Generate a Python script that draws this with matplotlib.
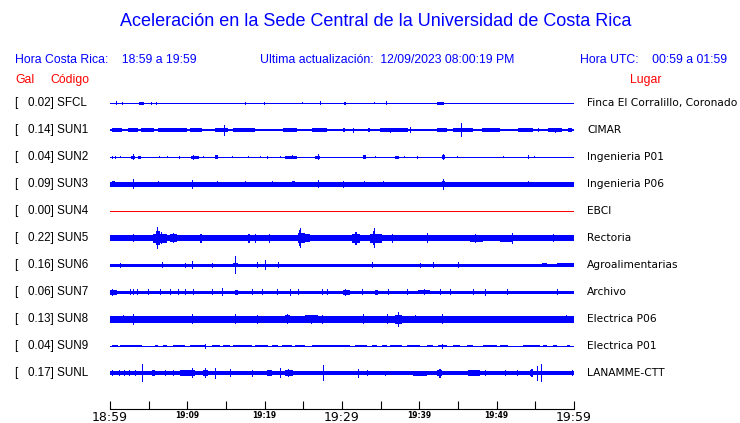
import numpy as np
import matplotlib.pyplot as plt

# ============================
# DATOS
# ============================

titulo = 'Aceleración en la Sede Central de la Universidad de Costa Rica'
hora_local = 'Hora Costa Rica:    18:59 a 19:59'
actualizacion = 'Ultima actualización:  12/09/2023 08:00:19 PM'
hora_utc = 'Hora UTC:    00:59 a 01:59'

codigos = ['SFCL', 'SUN1', 'SUN2', 'SUN3', 'SUN4', 'SUN5',
           'SUN6', 'SUN7', 'SUN8', 'SUN9', 'SUNL']
gal = [0.02, 0.14, 0.04, 0.09, 0.00, 0.22, 0.16, 0.06, 0.13, 0.04, 0.17]
lugares = ['Finca El Corralillo, Coronado', 'CIMAR', 'Ingenieria P01',
           'Ingenieria P06', 'EBCI', 'Rectoria', 'Agroalimentarias',
           'Archivo', 'Electrica P06', 'Electrica P01', 'LANAMME-CTT']

# minutos desde 18:59
tick_min = [0, 5, 10, 15, 20, 25, 30, 35, 40, 45, 50, 55, 60]
tick_txt = ['18:59', '', '19:09', '', '19:19', '', '19:29', '', '19:39', '',
            '19:49', '', '19:59']

# amplitud de fondo (px) de cada traza
fondo = [0.5, 1.0, 0.5, 1.7, 0.5, 2.8, 1.4, 1.4, 2.7, 0.5, 2.0]

# rafagas: (minuto inicio, minuto fin, amplitud px)
sfcl = [(0.78, 0.78, 2), (1.55, 1.55, 1.5), (3.75, 4.4, 1.5), (5.3, 5.3, 1.5),
        (5.95, 5.95, 1.5), (17.45, 17.45, 1.5), (19.9, 19.9, 1.5),
        (24.8, 24.8, 1), (27.15, 27.15, 2), (30.25, 30.5, 1.5),
        (34.1, 34.1, 1), (35.7, 35.7, 2), (42.3, 43.2, 1.5)]
sun1 = [(0.26, 1.55, 1.6), (2.33, 3.62, 1.6), (4.0, 5.7, 1.8), (6.2, 9.95, 1.6),
        (10.35, 11.9, 1.6), (13.6, 15.25, 1.6), (14.75, 14.75, 5.5),
        (15.9, 18.75, 1.6), (22.4, 24.2, 1.6), (26.1, 28.05, 1.6),
        (30.1, 30.4, 1.6), (31.4, 31.4, 2.5), (33.35, 33.6, 1.6),
        (34.9, 38.55, 1.8), (36.2, 36.2, 2.5), (38.8, 38.8, 3),
        (42.3, 43.6, 1.6), (44.35, 46.95, 1.6), (45.4, 45.4, 7),
        (48.1, 50.4, 1.6), (52.75, 54.7, 1.6), (55.35, 55.35, 2),
        (56.6, 58.45, 1.6), (57.5, 57.5, 2.5), (59.2, 59.75, 1.6)]
sun2 = [(0.26, 0.26, 1.5), (0.65, 0.65, 1.5), (1.3, 1.3, 1), (2.7, 3.2, 1.5),
        (2.95, 2.95, 3), (3.6, 4.0, 1.5), (6.3, 6.3, 1), (7.4, 7.4, 1),
        (8.9, 8.9, 1.5), (10.5, 11.5, 1.5), (10.7, 10.7, 2.5),
        (12.0, 12.0, 1), (13.6, 14.0, 1.7), (15.8, 15.8, 1), (17.8, 17.8, 1),
        (19.4, 19.4, 1), (20.3, 20.3, 1.5), (22.0, 22.0, 1),
        (22.6, 24.2, 1.5), (23.5, 23.5, 2), (26.5, 27.2, 1.5),
        (26.9, 26.9, 3), (32.7, 33.1, 1.7), (34.3, 34.3, 1),
        (36.85, 37.4, 1.5), (38.0, 38.0, 1), (39.7, 39.7, 1.5),
        (42.9, 43.3, 1.7), (43.1, 43.1, 3), (44.9, 44.9, 1), (50.8, 50.8, 1),
        (54.0, 54.0, 2), (54.8, 54.8, 1)]
sun3 = [(0.26, 0.65, 3), (2.97, 2.97, 5), (6.2, 6.2, 3), (10.5, 11.5, 2.5),
        (10.6, 10.6, 4.5), (13.85, 13.85, 3), (17.45, 17.45, 3),
        (20.95, 20.95, 3), (22.4, 22.4, 2.5), (23.5, 23.9, 3),
        (26.9, 26.9, 4), (30.1, 30.1, 3.5), (32.7, 33.1, 2.5), (32.8, 32.8, 3),
        (35.3, 35.3, 3), (37.75, 37.75, 2.5), (42.9, 43.3, 3),
        (43.05, 43.05, 5.5), (54.05, 54.05, 3), (56.0, 56.0, 2.5)]
sun4 = []
sun5 = [(2.97, 2.97, 4), (4.5, 5.2, 3.3), (5.55, 7.4, 4.5), (5.9, 6.5, 7),
        (6.1, 6.1, 11), (6.6, 6.6, 6), (7.75, 8.65, 4), (8.1, 8.1, 5),
        (9.05, 12.3, 3.3), (11.7, 11.7, 4.5), (17.1, 19.65, 3.3),
        (17.9, 17.9, 4.5), (18.8, 18.8, 4.5), (20.05, 21.35, 3.3),
        (20.6, 20.6, 4.5), (22.6, 23.9, 3.3), (24.3, 25.2, 5),
        (24.45, 24.75, 8), (24.6, 24.6, 10), (25.2, 25.85, 3.8),
        (31.3, 32.3, 4.5), (31.7, 31.9, 6.5), (33.6, 35.2, 4.5),
        (33.95, 34.3, 7), (34.1, 34.1, 10), (35.3, 38.4, 3.3),
        (36.5, 36.5, 4.5), (38.8, 40.5, 3.3), (41.0, 41.0, 5),
        (46.55, 48.2, 3.5), (47.2, 47.2, 4.5), (50.4, 52.1, 3.5),
        (52.0, 52.0, 5.5), (57.3, 57.3, 4), (58.0, 59.6, 3.2)]
sun6 = [(1.3, 1.3, 2.5), (6.7, 6.7, 3), (9.7, 9.7, 2.5), (10.6, 10.6, 4),
        (13.2, 13.2, 2.5), (15.9, 16.6, 2.2), (16.2, 16.2, 9),
        (19.0, 19.0, 3), (20.0, 20.0, 5), (21.7, 21.7, 3), (33.9, 33.9, 3),
        (40.1, 40.1, 2.5), (41.8, 41.8, 3), (45.0, 45.0, 3),
        (55.9, 56.5, 2.2), (57.8, 60.0, 2)]
sun7 = [(0.0, 0.9, 2.5), (0.3, 0.3, 3.5), (2.6, 2.6, 3), (3.0, 3.0, 3),
        (3.5, 3.5, 3), (4.9, 4.9, 3), (6.5, 6.5, 3), (7.75, 7.75, 3),
        (8.8, 8.8, 3), (9.7, 9.7, 3), (10.7, 10.7, 3), (13.2, 13.2, 3),
        (14.5, 14.5, 4), (16.2, 16.55, 2.5), (18.4, 18.4, 3),
        (19.65, 19.65, 3), (21.6, 21.6, 3), (23.3, 23.3, 3.5),
        (24.3, 24.3, 3), (27.4, 27.4, 3), (28.05, 28.05, 3),
        (30.1, 31.0, 2.5), (30.4, 30.4, 3.5), (32.6, 32.6, 3),
        (34.3, 34.65, 2.5), (35.9, 35.9, 3), (38.4, 38.4, 3),
        (39.8, 41.4, 2.3), (40.6, 40.6, 3), (42.7, 42.7, 3), (44.0, 44.0, 3),
        (46.9, 46.9, 3), (48.5, 48.5, 3.5), (51.3, 51.3, 3), (57.8, 57.8, 3)]
sun8 = [(0.0, 0.7, 3.4), (1.7, 1.7, 4), (3.0, 3.0, 5.5), (3.6, 4.9, 3.4),
        (8.0, 9.0, 3.4), (10.6, 10.6, 5), (11.5, 12.5, 3.4), (13.6, 14.2, 3.4),
        (16.2, 16.2, 5), (17.85, 20.0, 3.4), (19.0, 19.0, 4.5),
        (22.6, 23.3, 3.6), (22.9, 22.9, 5), (25.2, 26.9, 3.6),
        (26.0, 26.0, 4.5), (27.4, 27.4, 4.5), (31.0, 31.4, 3.4),
        (32.7, 32.7, 5), (33.6, 34.1, 3.4), (35.8, 35.8, 5),
        (36.85, 37.75, 4.5), (37.25, 37.25, 7.5), (39.4, 39.4, 4),
        (42.9, 42.9, 5), (43.6, 46.2, 3.4), (47.5, 50.0, 3.2),
        (53.0, 54.3, 3.4), (59.0, 59.0, 4)]
sun9 = [(0.26, 1.03, 1.4), (1.29, 4.14, 1.4), (5.82, 6.21, 1.4),
        (6.85, 7.37, 1.4), (8.15, 9.70, 1.4), (10.34, 12.28, 1.4),
        (12.3, 12.3, 2.5), (13.19, 14.22, 1.4), (14.61, 15.52, 1.4),
        (15.90, 18.36, 1.4), (18.75, 20.43, 1.4), (20.95, 21.72, 1.4),
        (22.24, 23.53, 1.4), (23.92, 25.22, 1.4), (26.12, 31.03, 1.4),
        (31.68, 33.23, 1.4), (33.88, 34.52, 1.4), (35.17, 35.82, 1.4),
        (36.2, 37.76, 1.4), (38.4, 40.08, 1.4), (40.99, 41.76, 1.4),
        (42.41, 43.57, 1.4), (42.9, 42.9, 2.5), (44.35, 45.26, 1.4),
        (46.16, 46.94, 1.4), (48.23, 50.04, 1.4), (50.43, 51.46, 1.4),
        (53.4, 55.6, 1.4), (55.99, 56.5, 1.4), (57.28, 57.8, 1.4),
        (59.09, 59.48, 1.4)]
sunl = [(0.3, 0.3, 3), (1.2, 1.2, 3), (1.8, 1.8, 3), (2.4, 2.4, 3),
        (3.2, 3.2, 3), (4.14, 4.14, 9.3), (5.43, 5.82, 2.6), (7.11, 7.11, 3),
        (8.1, 8.1, 3), (9.05, 11.0, 2.8), (10.6, 10.6, 5), (12.0, 12.7, 3),
        (12.3, 12.3, 5), (13.6, 13.6, 5.5), (15.5, 15.5, 4), (18.4, 18.4, 3.5),
        (20.3, 20.95, 2.6), (22.0, 22.0, 5), (22.6, 23.7, 2.8),
        (23.0, 23.0, 4), (27.5, 27.5, 8), (32.1, 32.1, 4.5), (33.2, 33.2, 3),
        (35.6, 35.6, 2.5), (39.2, 41.0, 2.5), (42.3, 42.9, 3),
        (42.6, 42.6, 4.5), (46.3, 47.8, 2.6), (48.5, 48.5, 3),
        (51.1, 51.1, 3), (52.6, 52.6, 3), (54.3, 54.7, 3), (54.5, 54.5, 4),
        (55.2, 55.2, 7.5), (55.7, 55.7, 9), (59.7, 59.7, 3)]

rafagas = [sfcl, sun1, sun2, sun3, sun4, sun5, sun6, sun7, sun8, sun9, sunl]

# ============================
# FIGURA
# ============================

W, H = 740, 423
azul = '#0000ff'
rojo = '#ff0000'
letra = 'Liberation Sans'

fig = plt.figure(figsize=(W / 100, H / 100), dpi=100)
fig.patch.set_facecolor('white')

def fx(px):
    return px / W

def fy(py):
    return 1 - py / H

fig.text(fx(376), fy(22), titulo, color=azul, fontsize=13,
         family=letra, ha='center', va='center')
fig.text(fx(15), fy(60), hora_local, color=azul, fontsize=8.8,
         family=letra, va='center')
fig.text(fx(260), fy(60), actualizacion, color=azul, fontsize=8.8,
         family=letra, va='center')
fig.text(fx(580), fy(60), hora_utc, color=azul, fontsize=8.8,
         family=letra, va='center')
fig.text(fx(15), fy(80), 'Gal', color=rojo, fontsize=8.8,
         family=letra, va='center')
fig.text(fx(50), fy(80), 'Código', color=rojo, fontsize=8.8,
         family=letra, va='center')
fig.text(fx(646), fy(80), 'Lugar', color=rojo, fontsize=8.8,
         family=letra, va='center', ha='center')

# ============================
# TRAZAS
# ============================

ax = fig.add_axes([fx(110), fy(409), fx(574) - fx(110), (409 - 76) / H])
ax.set_xlim(0, 60)
ax.set_ylim(11.333, -1)

px = 1 / 27  # unidades de eje por pixel

for i, cod in enumerate(codigos):
    color = rojo if cod == 'SUN4' else azul
    ax.hlines(i, 0, 60, color=color, lw=max(2 * fondo[i], 1) * 0.72,
              antialiased=False)
    if rafagas[i]:
        t0 = np.array([r[0] for r in rafagas[i]])
        t1 = np.array([r[1] for r in rafagas[i]])
        amp = np.array([r[2] for r in rafagas[i]]) * px
        ancho = np.maximum(t1 - t0, 0.14)
        ax.bar(t0, 2 * amp, bottom=i - amp, width=ancho, align='edge',
               color=color, linewidth=0, antialiased=False)

    y = 103 + 27 * i
    fig.text(fx(15), fy(y), f'[   {gal[i]:.2f}] {cod}', color='black',
             fontsize=8.4, family=letra, va='center')
    fig.text(fx(587), fy(y), lugares[i], color='black', fontsize=7.7,
             family='DejaVu Sans', va='center')

# ============================
# EJE DE TIEMPO
# ============================

for lado in ['left', 'right', 'top']:
    ax.spines[lado].set_visible(False)
ax.spines['bottom'].set_linewidth(0.8)
ax.set_yticks([])
ax.set_xticks(tick_min)
ax.set_xticklabels(tick_txt, family='DejaVu Sans')
ax.tick_params(axis='x', direction='in', length=5.8, width=0.8, pad=1.5)
for k, lab in enumerate(ax.get_xticklabels()):
    if tick_txt[k] in ('18:59', '19:29', '19:59'):
        lab.set_fontsize(9)
    else:
        lab.set_fontsize(5.5)
        lab.set_fontweight('bold')
ax.patch.set_alpha(0)

fig.savefig('out.png', dpi=100, facecolor='white')
